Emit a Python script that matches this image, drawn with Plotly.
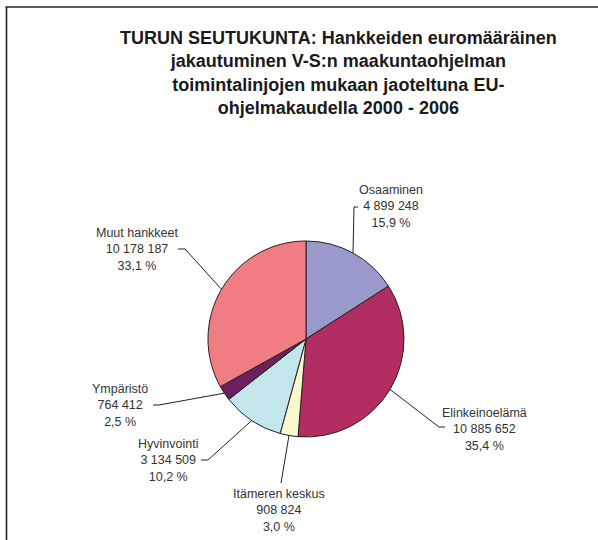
import math
import plotly.graph_objects as go

# ---- data ----
categories = ["Osaaminen", "Elinkeinoelämä", "Itämeren keskus", "Hyvinvointi", "Ympäristö", "Muut hankkeet"]
values = [4899248, 10885652, 908824, 3134509, 764412, 10178187]
colors = ["#9999CC", "#B22E62", "#FBF8CF", "#C2E6EC", "#6E1F5E", "#F07D84"]
title_lines = [
    "TURUN SEUTUKUNTA: Hankkeiden euromääräinen",
    "jakautuminen V-S:n maakuntaohjelman",
    "toimintalinjojen mukaan jaoteltuna EU-",
    "ohjelmakaudella 2000 - 2006",
]

# ---- layout (pixels) ----
W, H = 598, 540
CX, CY, R = 306, 339, 98
# label block centre, elbow point, stub end (pixels)
label_pos = {
    "Osaaminen": dict(t=(391, 207), elbow=(354, 207), stub=(358, 207)),
    "Elinkeinoelämä": dict(t=(484, 429), elbow=(439, 427), stub=(445, 427)),
    "Itämeren keskus": dict(t=(279, 510), elbow=(281, 483), stub=None),
    "Hyvinvointi": dict(t=(168, 460), elbow=(208, 460), stub=(201, 460)),
    "Ympäristö": dict(t=(120, 405), elbow=(159, 405), stub=(153, 405)),
    "Muut hankkeet": dict(t=(137, 249), elbow=(185, 249), stub=(178, 249)),
}


def px(x):
    return x / W


def py(y):
    return 1 - y / H


def fmt_int(v):
    return f"{v:,}".replace(",", " ")


total = sum(values)
fig = go.Figure()
fig.add_trace(go.Pie(
    labels=categories, values=values, sort=False, direction="clockwise", rotation=0,
    marker=dict(colors=colors, line=dict(color="#222222", width=1)),
    textinfo="none", hoverinfo="none", showlegend=False,
    domain=dict(x=[px(CX - R), px(CX + R)], y=[py(CY + R), py(CY - R)]),
))

shapes = []
annotations = []
cum = 0
line_style = dict(color="#222222", width=1)
for name, v in zip(categories, values):
    mid = (cum + v / 2) / total * 2 * math.pi
    cum += v
    ex = CX + R * math.sin(mid)
    ey = CY - R * math.cos(mid)
    lp = label_pos[name]
    bx, by = lp["elbow"]
    shapes.append(dict(type="line", xref="paper", yref="paper",
                       x0=px(ex), y0=py(ey), x1=px(bx), y1=py(by), line=line_style))
    if lp["stub"]:
        sx, sy = lp["stub"]
        shapes.append(dict(type="line", xref="paper", yref="paper",
                           x0=px(bx), y0=py(by), x1=px(sx), y1=py(sy), line=line_style))
    pct = f"{v / total * 100:.1f}".replace(".", ",")
    tx, ty = lp["t"]
    annotations.append(dict(
        xref="paper", yref="paper", x=px(tx), y=py(ty), xanchor="center", yanchor="middle",
        text=f"{name}<br>{fmt_int(v)}<br>{pct} %", showarrow=False, align="center",
        font=dict(family="Liberation Sans, Arial, sans-serif", size=12.5, color="#333333"),
    ))

annotations.append(dict(
    xref="paper", yref="paper", x=px(338.5), y=py(72.5), xanchor="center", yanchor="middle",
    text="<b>" + "<br>".join(title_lines) + "</b>", showarrow=False, align="center",
    font=dict(family="Liberation Sans, Arial, sans-serif", size=18, color="#1a1a1a"),
))

# frame
shapes.append(dict(type="line", xref="paper", yref="paper", x0=px(5.5), y0=py(7), x1=1, y1=py(7),
                   line=dict(color="#222222", width=1.6)))
shapes.append(dict(type="line", xref="paper", yref="paper", x0=px(6.5), y0=py(7), x1=px(6.5), y1=0,
                   line=dict(color="#222222", width=1.6)))

fig.update_layout(
    width=W, height=H, margin=dict(l=0, r=0, t=0, b=0),
    paper_bgcolor="white", plot_bgcolor="white",
    shapes=shapes, annotations=annotations,
)
fig.write_html(
    "out.html",
    config={"displayModeBar": False},
    post_script="document.body.style.margin='0';document.body.style.overflow='hidden';",
)
